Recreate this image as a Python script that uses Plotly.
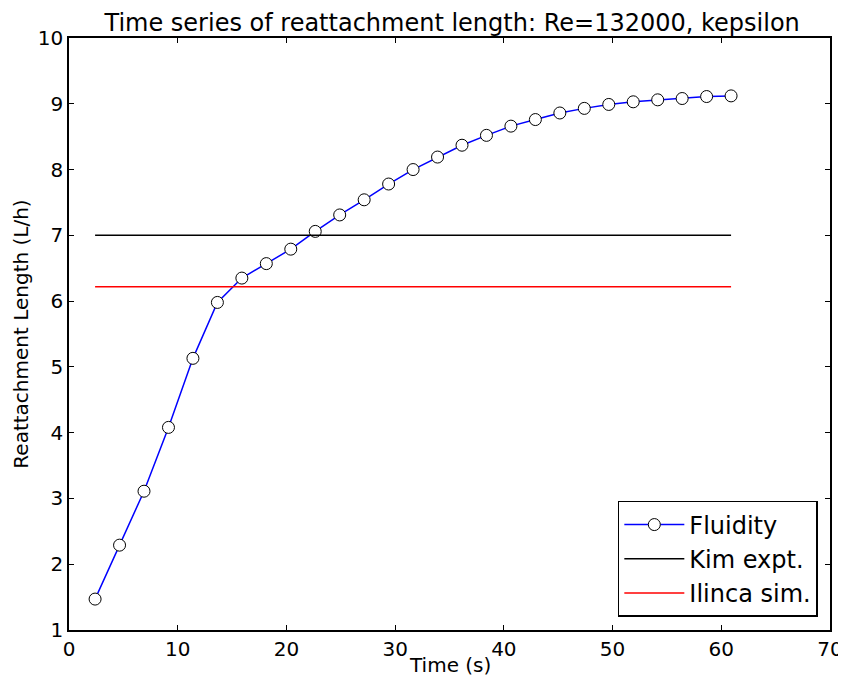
import plotly.graph_objects as go

# time series data
time_s = [2.4, 4.65, 6.9, 9.15, 11.4, 13.65, 15.9, 18.15, 20.4, 22.65, 24.9, 27.15,
          29.4, 31.65, 33.9, 36.15, 38.4, 40.65, 42.9, 45.15, 47.4, 49.65, 51.9,
          54.15, 56.4, 58.65, 60.9]
reattach = [1.47, 2.29, 3.11, 4.08, 5.13, 5.98, 6.35, 6.57, 6.79, 7.06, 7.31, 7.54,
            7.78, 8.00, 8.19, 8.37, 8.52, 8.66, 8.76, 8.86, 8.93, 8.99, 9.03,
            9.06, 9.08, 9.11, 9.12]
kim_expt = 7.0
ilinca_sim = 6.22

font_family = "DejaVu Sans"

fig = go.Figure()

fig.add_trace(go.Scatter(
    x=time_s, y=reattach, name="Fluidity", mode="lines+markers",
    line=dict(color="blue", width=1.5),
    marker=dict(symbol="circle", size=12, color="white",
                line=dict(color="black", width=1)),
))
fig.add_trace(go.Scatter(
    x=[time_s[0], time_s[-1]], y=[kim_expt, kim_expt], name="Kim expt.",
    mode="lines", line=dict(color="black", width=1.5),
))
fig.add_trace(go.Scatter(
    x=[time_s[0], time_s[-1]], y=[ilinca_sim, ilinca_sim], name="Ilinca sim.",
    mode="lines", line=dict(color="red", width=1.5),
))

# the page body adds an 8px margin, so the figure is sized to fit the window
fig.update_layout(
    width=838, height=676,
    margin=dict(l=61, r=16, t=30, b=54, autoexpand=False),
    plot_bgcolor="white", paper_bgcolor="white",
    font=dict(family=font_family, size=20, color="black"),
    title=dict(text="Time series of reattachment length: Re=132000, kepsilon",
               x=0.530, xanchor="center", y=0.979, yanchor="middle",
               font=dict(size=24)),
    legend=dict(x=0.984, y=0.022, xanchor="right", yanchor="bottom",
                bordercolor="black", borderwidth=1.5, bgcolor="white",
                font=dict(size=24), tracegroupgap=0, itemwidth=60),
    # x axis title placed by hand so it sits as close to the ticks as the reference
    annotations=[dict(text="Time (s)", xref="paper", yref="paper", x=0.5, y=-0.059,
                      xanchor="center", yanchor="middle", showarrow=False,
                      font=dict(size=20))],
)

axis_style = dict(
    showgrid=False, zeroline=False, showline=True, linecolor="black", linewidth=1.5,
    mirror="allticks", ticks="inside", ticklen=5, tickcolor="black", tickwidth=1,
    tickfont=dict(size=20), automargin=False,
)
fig.update_xaxes(range=[0, 70], dtick=10, **axis_style)
fig.update_yaxes(range=[1, 10], dtick=1, title=dict(text="Reattachment Length (L/h)",
                 standoff=4, font=dict(size=20)), **axis_style)

fig.write_html("out.html")
